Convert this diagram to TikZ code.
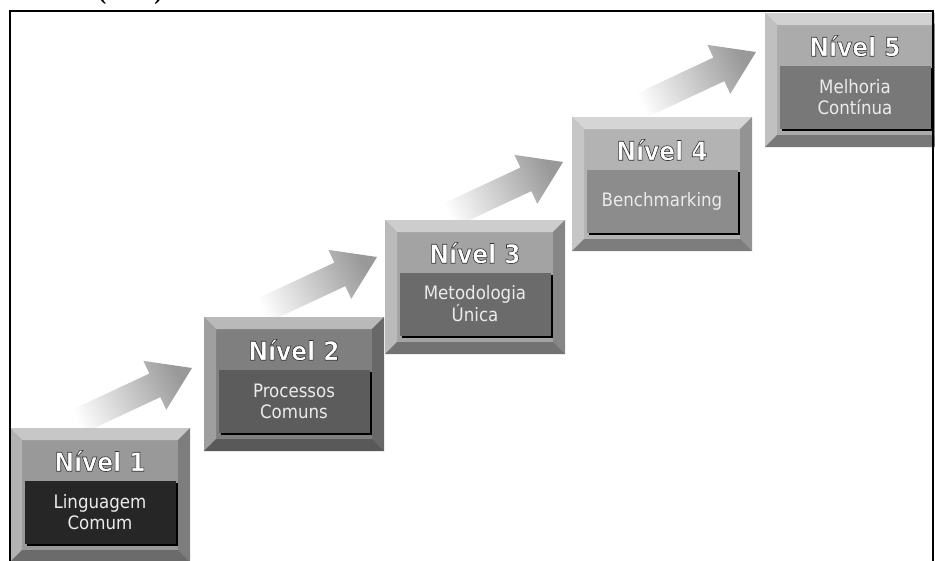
\documentclass[tikz,border=0pt]{standalone}
\usepackage{fontspec}
\newfontfamily\boxfont{DejaVu Sans Condensed}
\newfontfamily\capfont{Liberation Serif}
\usetikzlibrary{calc,shadows}

\definecolor{face1}{HTML}{999999}\definecolor{tag1}{HTML}{262626}
\definecolor{face2}{HTML}{7F7F7F}\definecolor{tag2}{HTML}{5C5C5C}
\definecolor{face3}{HTML}{A3A3A3}\definecolor{tag3}{HTML}{6B6B6B}
\definecolor{face4}{HTML}{B3B3B3}\definecolor{tag4}{HTML}{8C8C8C}
\definecolor{face5}{HTML}{ABABAB}\definecolor{tag5}{HTML}{787878}

\tikzset{
  levelbox/.style={minimum width=180pt,minimum height=134pt,inner sep=0pt,outer sep=0pt},
  tagbox/.style={minimum width=151pt,minimum height=63pt,inner sep=0pt,align=center,
    text=black!8,font=\boxfont\fontsize{18.5}{21}\selectfont,
    drop shadow={shadow xshift=2pt,shadow yshift=-2pt,fill=black,opacity=1}},
  heading/.style={inner sep=0pt,text=white,font=\boxfont\bfseries\fontsize{26}{30}\selectfont},
}

% white letters with a dark rim
\newcommand{\outlined}[1]{\special{pdf:literal q 0.2 G 2 Tr 0.6 w}#1\special{pdf:literal Q}}

\newcommand{\nivel}[6]{%
  \node[levelbox,fill=#5] (n#3) at (#1+90,#2+67) {};
  \fill[#5!55!white] (#1,#2) -- ++(180,0) -- ++(-12,12) -- ++(-156,0) -- cycle;
  \fill[#5!75!white] (#1,#2) -- ++(12,12) -- ++(0,110) -- ++(-12,12) -- cycle;
  \fill[#5!82!black] (#1+180,#2) -- ++(-12,12) -- ++(0,110) -- ++(12,12) -- cycle;
  \fill[#5!70!black] (#1,#2+134) -- ++(12,-12) -- ++(156,0) -- ++(12,12) -- cycle;
  \node[tagbox,fill=#6] (t#3) at (#1+90,#2+84) {#4};
  \node[heading] (h#3) at (#1+90,#2+33) {\outlined{Nível #3}};
}

\newcommand{\stairarrow}[2]{%
  \coordinate (#1b) at ($(#2)!41pt!(#1)$);
  \shade[top color=white,bottom color=gray!80,shading angle=115]
    ($(#1)!13pt!90:(#2)$) -- ($(#1b)!13pt!90:(#2)$) -- ($(#1b)!27pt!90:(#2)$)
    -- (#2) -- ($(#1b)!27pt!-90:(#2)$) -- ($(#1b)!13pt!-90:(#2)$)
    -- ($(#1)!13pt!-90:(#2)$) -- cycle;
}

\begin{document}
\begin{tikzpicture}[x=1pt,y=-1pt]
  \useasboundingbox (0,0) rectangle (935,560);
  % arrows between the steps
  \coordinate (a1) at (70,425);  \coordinate (p1) at (192,368);
  \coordinate (a2) at (255,314); \coordinate (p2) at (377,257);
  \coordinate (a3) at (441,219); \coordinate (p3) at (563,162);
  \coordinate (a4) at (634,109); \coordinate (p4) at (756,52);
  \stairarrow{a1}{p1}
  \stairarrow{a2}{p2}
  \stairarrow{a3}{p3}
  \stairarrow{a4}{p4}
  % steps
  \nivel{10}{428}{1}{Linguagem\\Comum}{face1}{tag1}
  \nivel{204}{317}{2}{Processos\\Comuns}{face2}{tag2}
  \nivel{385}{220}{3}{Metodologia\\Única}{face3}{tag3}
  \nivel{572}{117}{4}{Benchmarking}{face4}{tag4}
  \nivel{765}{13}{5}{Melhoria\\Contínua}{face5}{tag5}
  % frame and source
  \draw[line width=1.6pt] (10,565) -- (10,11) -- (933,11) -- (933,565);
  \node[anchor=base west,inner sep=0pt,font=\capfont\bfseries\fontsize{24}{26}\selectfont] (src) at (7,-1) {Kerzner (2006)};
\end{tikzpicture}
\end{document}
